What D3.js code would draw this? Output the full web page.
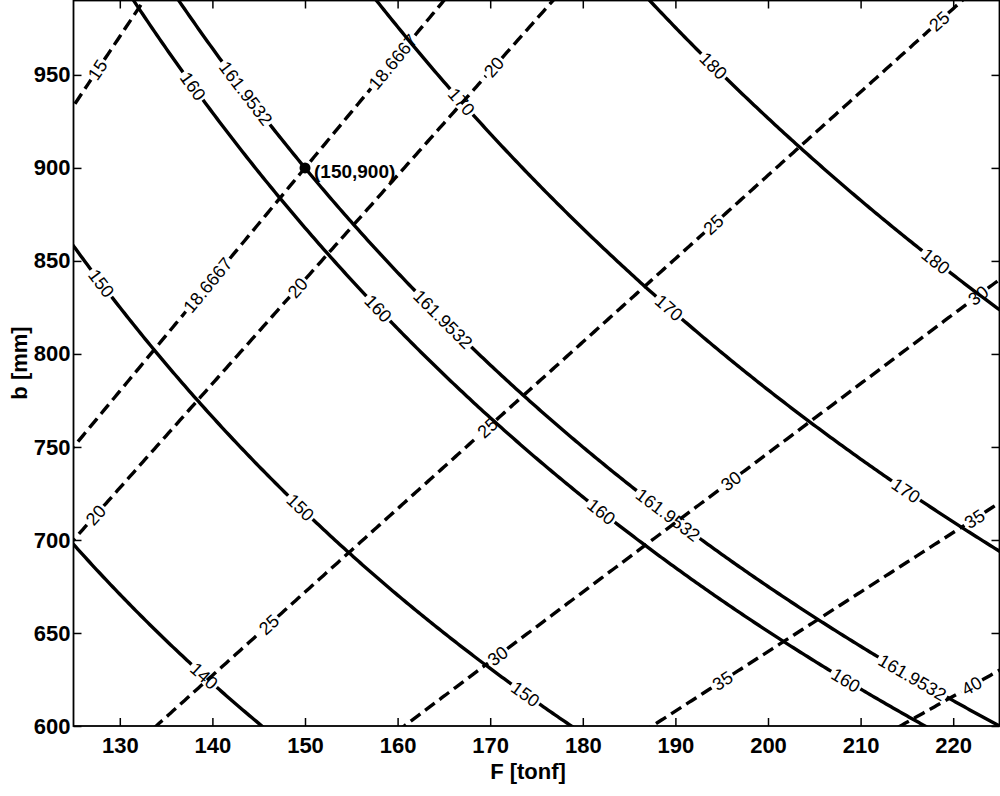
<!DOCTYPE html>
<html>
<head>
<meta charset="utf-8">
<script src="https://cdn.jsdelivr.net/npm/d3@7"></script>
<style>
  body { margin: 0; background: #fff; }
  text { font-family: "Liberation Sans", Arial, Helvetica, sans-serif; fill: #000; }
  .tick text { font-size: 22px; font-weight: bold; }
  .clabel { font-size: 18px; }
</style>
</head>
<body>
<svg id="chart" width="1000" height="796"></svg>
<script>
const width = 1000;
const height = 796;

// axes
const xDomain = [125, 225];
const yDomain = [600, 990];
const xTicks = [130, 140, 150, 160, 170, 180, 190, 200, 210, 220];
const yTicks = [600, 650, 700, 750, 800, 850, 900, 950];

// design point and the contour values there
const designF = 150;
const designB = 900;
const designSolid = 161.9532;   // solid family value at (150,900)
const designDashed = 18.6667;   // dashed family value at (150,900)

// contour levels
const solidLevels = [140, 150, 160, 161.9532, 170, 180];
const dashedLevels = [15, 18.6667, 20, 25, 30, 35, 40];

// where the inline labels sit on each contour (F value)
const solidLabelF = [
    [139.1],
    [128.0, 149.5, 173.8],
    [137.9, 157.9, 182.0, 208.4],
    [143.6, 164.9, 189.2, 215.6],
    [166.9, 189.3, 214.9],
    [194.1, 218.1]
];
const dashedLabelF = [
    [127.6],
    [139.5, 159.5],
    [127.4, 149.2, 170.4],
    [146.1, 169.7, 194.1, 218.5],
    [170.8, 196.0, 222.7],
    [195.1, 222.3],
    [222.0]
];

const plot = { left: 73.5, right: 999.5, top: 0.5, bottom: 726 };

const x = d3.scaleLinear().domain(xDomain).range([plot.left, plot.right]);
const y = d3.scaleLinear().domain(yDomain).range([plot.bottom, plot.top]);

const svg = d3.select("#chart");

svg.append("clipPath")
    .attr("id", "plot-clip")
    .append("rect")
    .attr("x", plot.left)
    .attr("y", plot.top)
    .attr("width", plot.right - plot.left)
    .attr("height", plot.bottom - plot.top);

// contour fields: solid ~ (F*b)^(1/3), dashed ~ F/b, both anchored at the design point
const solidB = (F, L) => designF * designB * Math.pow(L / designSolid, 3) / F;
const dashedB = (F, L) => F * (designB / designF) * (designDashed / L);

const fSamples = d3.range(xDomain[0] - 2, xDomain[1] + 2.001, 0.25);

function pointAt(pts, cum, s) {
    const i = Math.max(1, Math.min(cum.length - 1, d3.bisectLeft(cum, s)));
    const t = (s - cum[i - 1]) / (cum[i] - cum[i - 1]);
    return [
        pts[i - 1][0] + t * (pts[i][0] - pts[i - 1][0]),
        pts[i - 1][1] + t * (pts[i][1] - pts[i - 1][1])
    ];
}

const lineLayer = svg.append("g").attr("clip-path", "url(#plot-clip)");
const labelLayer = svg.append("g");

function drawFamily(levels, labelF, bOf, dash) {
    levels.forEach((L, k) => {
        const pts = fSamples
            .map(F => [F, bOf(F, L)])
            .filter(d => d[1] > yDomain[0] - 15 && d[1] < yDomain[1] + 15)
            .map(d => [x(d[0]), y(d[1])]);
        const cum = [0];
        for (let i = 1; i < pts.length; i++) {
            cum.push(cum[i - 1] + Math.hypot(pts[i][0] - pts[i - 1][0], pts[i][1] - pts[i - 1][1]));
        }

        // labels and the gaps they cut out of the line
        const gaps = [];
        labelF[k].forEach(F0 => {
            const p0 = [x(F0), y(bOf(F0, L))];
            const i = d3.bisectLeft(pts.map(p => p[0]), p0[0]);
            const s0 = cum[i - 1] + Math.hypot(p0[0] - pts[i - 1][0], p0[1] - pts[i - 1][1]);
            let ang = Math.atan2(pts[i][1] - pts[i - 1][1], pts[i][0] - pts[i - 1][0]) * 180 / Math.PI;
            if (ang > 90) ang -= 180;
            if (ang < -90) ang += 180;
            const t = labelLayer.append("text")
                .attr("class", "clabel")
                .attr("text-anchor", "middle")
                .attr("dy", "0.35em")
                .attr("transform", `translate(${p0[0]},${p0[1]}) rotate(${ang})`)
                .text(String(L));
            const half = t.node().getComputedTextLength() / 2 + 2;
            gaps.push([s0 - half, s0 + half]);
        });
        gaps.sort((a, b) => a[0] - b[0]);

        const total = cum[cum.length - 1];
        const visible = [];
        let start = 0;
        gaps.forEach(g => {
            if (g[0] > start) visible.push([start, g[0]]);
            start = Math.max(start, g[1]);
        });
        if (start < total) visible.push([start, total]);

        visible.forEach(([s1, s2]) => {
            const seg = [pointAt(pts, cum, s1)];
            pts.forEach((p, i) => { if (cum[i] > s1 && cum[i] < s2) seg.push(p); });
            seg.push(pointAt(pts, cum, s2));
            lineLayer.append("path")
                .attr("d", d3.line()(seg))
                .attr("fill", "none")
                .attr("stroke", "#000")
                .attr("stroke-width", 3.4)
                .attr("stroke-dasharray", dash);
        });
    });
}

drawFamily(solidLevels, solidLabelF, solidB, null);
drawFamily(dashedLevels, dashedLabelF, dashedB, "12,6");

// design point
svg.append("circle")
    .attr("cx", x(designF))
    .attr("cy", y(designB))
    .attr("r", 5.5)
    .attr("fill", "#000");

svg.append("text")
    .attr("x", x(designF) + 9)
    .attr("y", y(designB) + 3)
    .attr("dy", "0.35em")
    .attr("font-size", 19)
    .attr("font-weight", "bold")
    .text(`(${designF},${designB})`);

// axes with inward ticks on all four sides
const bottomAxis = svg.append("g")
    .attr("transform", `translate(0,${plot.bottom})`)
    .call(d3.axisBottom(x).tickValues(xTicks).tickSize(-8).tickPadding(11));
const leftAxis = svg.append("g")
    .attr("transform", `translate(${plot.left},0)`)
    .call(d3.axisLeft(y).tickValues(yTicks).tickSize(-8).tickPadding(3));
const topAxis = svg.append("g")
    .attr("transform", `translate(0,${plot.top})`)
    .call(d3.axisTop(x).tickValues(xTicks).tickSize(-8).tickFormat(""));
const rightAxis = svg.append("g")
    .attr("transform", `translate(${plot.right},0)`)
    .call(d3.axisRight(y).tickValues(yTicks).tickSize(-8).tickFormat(""));

[bottomAxis, leftAxis, topAxis, rightAxis].forEach(a => {
    a.select(".domain").remove();
    a.selectAll(".tick line").attr("stroke", "#000").attr("stroke-width", 1.5);
});

svg.append("rect")
    .attr("x", plot.left)
    .attr("y", plot.top)
    .attr("width", plot.right - plot.left)
    .attr("height", plot.bottom - plot.top)
    .attr("fill", "none")
    .attr("stroke", "#000")
    .attr("stroke-width", 1.8);

// axis titles
svg.append("text")
    .attr("x", 528)
    .attr("y", 779)
    .attr("text-anchor", "middle")
    .attr("font-size", 22)
    .attr("font-weight", "bold")
    .text("F [tonf]");

svg.append("text")
    .attr("transform", "translate(27,363) rotate(-90)")
    .attr("text-anchor", "middle")
    .attr("font-size", 22)
    .attr("font-weight", "bold")
    .text("b [mm]");
</script>
</body>
</html>
